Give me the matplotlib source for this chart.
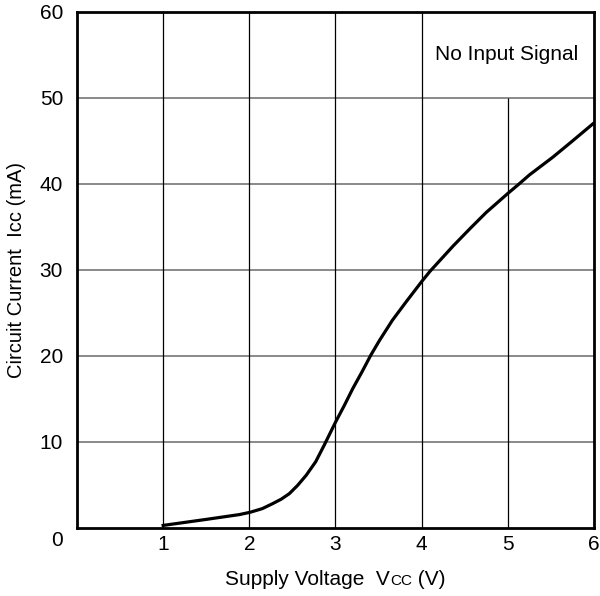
import numpy as np
import matplotlib
matplotlib.use("Agg")
import matplotlib.pyplot as plt

plt.rcParams['font.family'] = ['Liberation Sans', 'DejaVu Sans']

# supply voltage (V) vs circuit current (mA)
vcc = [1.0, 1.5, 1.885, 2.01, 2.15, 2.27, 2.37, 2.465, 2.56, 2.66, 2.77,
       2.87, 3.0, 3.1, 3.2, 3.31, 3.41, 3.51, 3.66, 3.82, 4.0, 4.097,
       4.366, 4.56, 4.75, 5.0, 5.13, 5.25, 5.52, 5.75, 6.0]
icc = [0.3, 1.0, 1.56, 1.83, 2.25, 2.83, 3.35, 4.0, 4.95, 6.13, 7.7,
       9.65, 12.3, 14.2, 16.2, 18.2, 20.1, 21.8, 24.15, 26.3, 28.65, 29.85,
       32.8, 34.8, 36.7, 38.9, 40.0, 41.05, 43.1, 45.0, 47.1]

xticks = [1, 2, 3, 4, 5, 6]
yticks = [10, 20, 30, 40, 50, 60]
note = "No Input Signal"

fig = plt.figure(figsize=(6.0, 5.96), dpi=100)
ax = fig.add_axes([0.1283, 0.1141, 0.8617, 0.8658])
ax.set_xlim(0, 6)
ax.set_ylim(0, 60)

# grid: grey horizontals, black verticals (x=5 stops under the note box)
for y in yticks[:-1]:
    ax.axhline(y, color='#808080', lw=1.3, zorder=1)
for x in xticks[:4]:
    ax.axvline(x, color='black', lw=0.9, zorder=1)
ax.vlines(5, 0, 50, color='black', lw=0.9, zorder=1)

ax.plot(vcc, icc, color='black', lw=2.3, solid_joinstyle='round', zorder=3)

ax.text(4.99, 55, note, ha='center', va='center', fontsize=15)

for s in ax.spines.values():
    s.set_linewidth(2.0)
    s.set_zorder(4)

ax.set_xticks(xticks)
ax.set_yticks(yticks)
ax.tick_params(length=0, labelsize=15)
ax.tick_params(axis='y', pad=10)
ax.tick_params(axis='x', pad=5)
ax.text(-0.027, -0.005, "0", transform=ax.transAxes, ha='right', va='top', fontsize=15)

ax.set_ylabel("Circuit Current  Icc (mA)", fontsize=14.5, labelpad=10)

# x label with small "CC"
fig.canvas.draw()
r = fig.canvas.get_renderer()
parts = [("Supply Voltage  V", 15), ("CC", 11), (" (V)", 15)]
texts = [fig.text(0, 0.018, s, fontsize=fs, va='baseline') for s, fs in parts]
widths = [t.get_window_extent(r).width for t in texts]
x0 = (77 + 594) / 2 - sum(widths) / 2
for t, w in zip(texts, widths):
    t.set_x(x0 / 600)
    x0 += w

fig.savefig("out.png", dpi=100)
